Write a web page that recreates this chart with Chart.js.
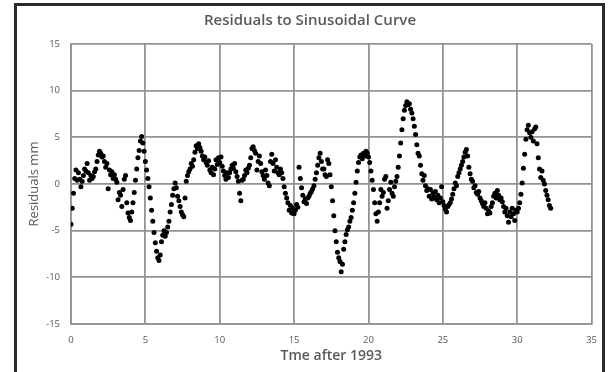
<!DOCTYPE html>
<html>
<head>
<meta charset="utf-8">
<script src="https://cdn.jsdelivr.net/npm/chart.js@4.4.1/dist/chart.umd.min.js"></script>
<style>
  html, body { margin: 0; padding: 0; background: #fff; overflow: hidden; }
  #wrap { position: relative; width: 608px; height: 372px; }
  #frame { position: absolute; left: 14px; top: 3px; width: 591px; height: 400px;
           border: 3px solid #2b2b2b; box-sizing: border-box; }
  #chart { position: absolute; left: 0; top: 0; }
</style>
</head>
<body>
<div id="wrap">
  <div id="frame"></div>
  <canvas id="chart" width="608" height="372"></canvas>
</div>
<script>
// Sampling: monthly residuals, time in years after 1993
const startYear = 0;
const stepYears = 1 / 12;

// Residuals in mm, one row per year
const residualsMm = [
  -4.3, -2.6, -1.0, 0.6, 1.5, 0.4, 1.2, 0.5, -0.3, 0.3, 0.9, 1.6,
  1.4, 2.2, 1.2, 0.4, 0.9, 0.6, 0.8, 1.3, 1.6, 2.4, 3.1, 3.5,
  3.3, 2.9, 3.0, 2.4, 1.8, 2.2, -0.5, 1.5, 1.0, 1.3, 0.6, 1.0,
  0.5, 0.2, -1.7, -0.9, -1.2, -2.4, -0.6, 0.5, 0.9, -2.0, -3.1, -3.6,
  -3.9, -3.0, -2.0, -0.9, 0.4, 1.6, 2.8, 3.6, 4.6, 5.1, 4.4, 3.5,
  2.4, 1.5, 0.6, -0.3, -1.5, -2.8, -4.0, -5.2, -6.3, -7.2, -7.9, -8.2,
  -7.6, -6.2, -5.5, -5.0, -5.6, -5.2, -4.6, -4.0, -3.0, -2.2, -1.2, -0.5,
  0.1, -0.4, -1.3, -1.8, -2.4, -3.0, -3.3, -3.5, -1.5, 0.3, 0.9, 1.3,
  1.6, 2.2, 1.9, 2.6, 3.4, 4.1, 3.8, 4.3, 3.9, 3.5, 3.0, 2.6,
  2.9, 2.3, 2.0, 2.5, 1.5, 1.2, 1.8, 1.0, 1.6, 2.6, 2.1, 2.8,
  2.3, 2.9, 1.9, 1.4, 0.9, 0.5, 1.2, 0.7, 1.2, 1.6, 2.0, 1.7,
  2.2, 1.3, 0.8, 0.3, -1.0, -1.8, 0.4, 0.5, 0.9, 1.5, 1.2, 1.7,
  2.0, 2.8, 3.8, 4.0, 3.6, 3.3, 1.5, 2.4, 3.0, 2.2, 1.3, 0.9,
  0.5, 1.5, 0.9, 0.1, -0.2, 2.4, 3.2, 2.2, 1.4, 2.6, 1.8, 1.2,
  1.0, 1.6, 1.2, 0.6, -0.3, -1.0, -1.5, -2.0, -2.8, -2.3, -3.1, -2.6,
  -3.2, -2.8, -2.2, -2.5, 1.8, 0.6, -0.4, -1.2, -1.9, -1.6, -2.1, -1.5,
  -1.3, -1.0, -0.8, -0.5, -0.2, 0.5, 1.2, 2.0, 2.8, 3.3, 2.4, 1.6,
  1.6, 1.0, 0.8, 2.6, 2.2, 1.0, -0.3, -1.8, -3.4, -5.0, -6.2, -7.3,
  -7.9, -8.3, -9.4, -8.6, -7.0, -6.2, -5.4, -4.9, -4.6, -4.0, -3.6, -2.8,
  -2.0, -1.0, 0.2, 1.4, 2.3, 2.9, 3.1, 2.7, 3.3, 3.0, 3.5, 3.3,
  2.9, 2.3, 1.4, 0.4, -0.6, -2.0, -3.2, -4.0, -3.0, -2.0, -0.6, -1.3,
  -0.9, 0.5, 0.8, -2.6, -1.8, -0.6, 0.2, -1.0, -1.3, -0.3, 0.3, 0.8,
  1.8, 3.0, 4.4, 5.8, 7.0, 7.9, 8.4, 8.8, 8.5, 8.6, 8.0, 7.6,
  7.0, 6.2, 5.3, 4.2, 3.3, 3.0, 2.0, 1.1, 0.4, 0.9, -0.2, -0.7,
  -0.5, -1.3, -0.6, -1.6, -1.0, -1.4, -0.8, -1.7, -1.2, -2.0, -1.5, -0.3,
  -1.9, -2.3, -2.7, -3.0, -2.4, -2.2, -2.0, -1.6, -1.1, -0.5, 0.1, -0.2,
  0.8, 1.2, 1.6, 2.0, 2.4, 2.9, 3.4, 3.7, 3.0, 1.8, 1.1, 0.5,
  0.3, -0.4, -0.2, -0.9, -1.1, -0.8, -1.5, -1.8, -2.1, -2.4, -2.0, -2.6,
  -3.2, -2.9, -3.1, -2.4, -2.0, -1.3, -1.0, -1.5, -0.7, -1.2, -1.7, -1.5,
  -1.9, -2.4, -3.0, -2.6, -3.4, -4.1, -3.0, -3.5, -2.6, -3.2, -3.9, -2.8,
  -3.0, -2.6, -2.0, -1.1, 0.1, 1.7, 3.2, 4.8, 5.8, 6.3, 5.5, 5.0,
  5.6, 4.6, 5.9, 6.1, 4.3, 2.8, 1.6, 0.7, 1.4, 0.4, 0.0, -0.7,
  -1.2, -1.7, -2.3, -2.6
];

// Axis ticks
const xTicks = [0, 5, 10, 15, 20, 25, 30, 35];
const yTicks = [-15, -10, -5, 0, 5, 10, 15];

const chartTitle = 'Residuals to Sinusoidal Curve';
const xTitle = 'Tme after 1993';
const yTitle = 'Residuals mm';

const FONT = '"Open Sans", "Liberation Sans", sans-serif';
const GRID = '#939393';
const TEXT = '#595959';

const points = residualsMm.map((v, i) => ({ x: startYear + i * stepYears, y: v }));

new Chart(document.getElementById('chart'), {
  type: 'scatter',
  data: {
    datasets: [{
      data: points,
      backgroundColor: '#000',
      borderWidth: 0,
      pointRadius: 2.5,
      pointHoverRadius: 2.5
    }]
  },
  options: {
    responsive: false,
    animation: false,
    layout: { padding: { left: 28, right: 16, top: 0, bottom: 0 } },
    plugins: {
      legend: { display: false },
      tooltip: { enabled: false },
      title: {
        display: true,
        text: chartTitle,
        color: TEXT,
        font: { family: FONT, size: 15, weight: '600', lineHeight: 1.2 },
        padding: { top: 12, bottom: 14 }
      }
    },
    scales: {
      x: {
        type: 'linear',
        min: xTicks[0],
        max: xTicks[xTicks.length - 1],
        afterFit: s => { s.height = 48; },
        afterBuildTicks: s => { s.ticks = xTicks.map(v => ({ value: v })); },
        grid: { color: GRID, lineWidth: 1.8, drawTicks: false },
        border: { color: GRID, width: 1.8 },
        ticks: { color: TEXT, font: { family: FONT, size: 9.5 }, padding: 11, maxRotation: 0 },
        title: {
          display: true,
          text: xTitle,
          color: TEXT,
          font: { family: FONT, size: 14, weight: '600', lineHeight: 1.2 },
          padding: { top: 0, bottom: 8 }
        }
      },
      y: {
        type: 'linear',
        min: yTicks[0],
        max: yTicks[yTicks.length - 1],
        afterFit: s => { s.width = 43; },
        afterBuildTicks: s => { s.ticks = yTicks.map(v => ({ value: v })); },
        grid: { color: GRID, lineWidth: 1.8, drawTicks: false },
        border: { color: GRID, width: 1.8 },
        ticks: { color: TEXT, font: { family: FONT, size: 9.5 }, padding: 11 },
        title: {
          display: true,
          text: yTitle,
          color: TEXT,
          font: { family: FONT, size: 13, lineHeight: 1 },
          padding: { top: 0, bottom: 0 }
        }
      }
    }
  }
});
</script>
</body>
</html>
